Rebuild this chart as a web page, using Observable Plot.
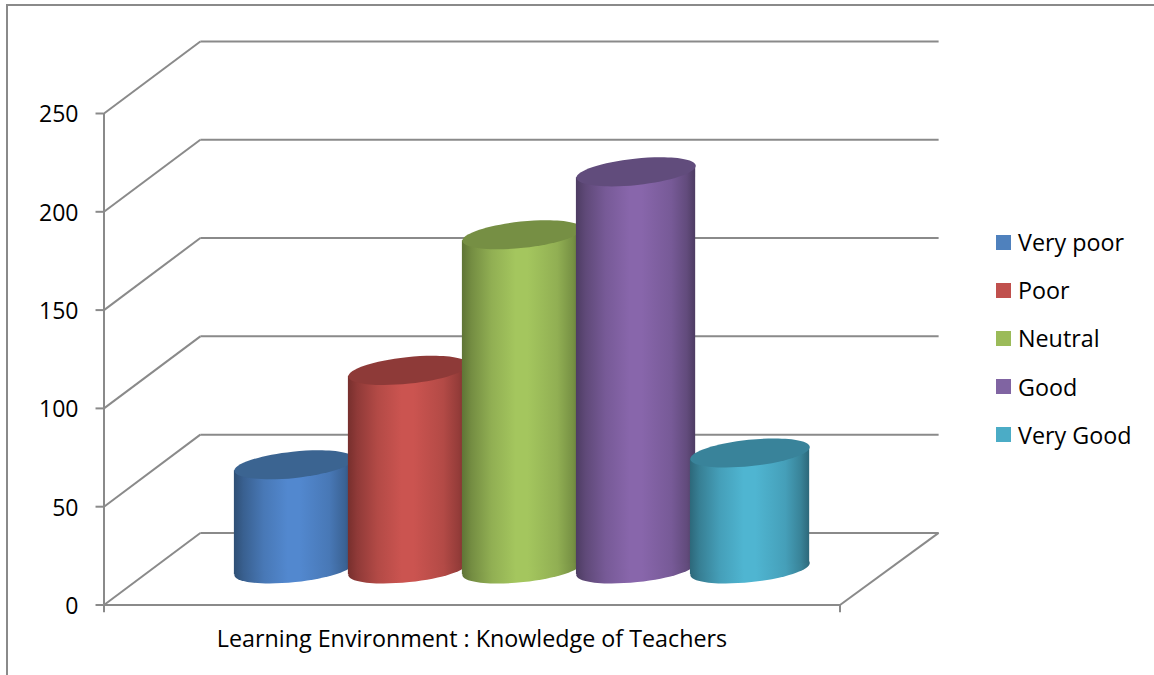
<!DOCTYPE html>
<html>
<head>
<meta charset="utf-8">
<style>
  html, body { margin: 0; padding: 0; background: #fff; }
  #page { position: relative; width: 1154px; height: 675px; overflow: hidden; font-family: "Open Sans", sans-serif; }
  #page svg { position: absolute; left: 0; top: 0; }
  #border { position: absolute; left: 6px; top: 4px; width: 1160px; height: 680px; border-left: 2px solid #8a8a8a; border-top: 2px solid #8a8a8a; }
  #legend { position: absolute; left: 996px; top: 218px; color: #000; font-size: 23.3px; }
  #legend .row { display: flex; align-items: center; height: 48.2px; white-space: nowrap; }
  #legend .key { width: 15px; height: 15px; margin-right: 7px; }
</style>
<script src="https://cdn.jsdelivr.net/npm/d3@7"></script>
<script src="https://cdn.jsdelivr.net/npm/@observablehq/plot@0.6"></script>
</head>
<body>
<div id="page"><div id="border"></div></div>
<script>
const categories = ["Very poor", "Poor", "Neutral", "Good", "Very Good"];
const values = [53, 101, 170, 202, 59];
const yTicks = [0, 50, 100, 150, 200, 250];
const axisTitle = "Learning Environment : Knowledge of Teachers";

const legendColors = ["#4f81bd", "#c0504d", "#9bbb59", "#8064a2", "#4bacc6"];
const centerColors = ["#5288cf", "#cb5450", "#a4c65e", "#8866ab", "#4fb5d1"];
const edgeColors   = ["#2e4f75", "#772f2d", "#5f7436", "#4d3c62", "#2d687a"];
const topColors    = ["#3b6491", "#8e3a38", "#768f44", "#614c7c", "#39839a"];
const gridColor = "#8a8a8a";

// Oblique projection, in scale units (x: one unit = one cylinder step; y: chart value)
const xLeft = -1.6667, xRight = 4.789;
const depthX = 0.845, depthXRight = 0.865, depthY = 36.66;
const baseY = depthY / 2;
const halfWidth = 0.523, tiltY = 3.0, tickLength = 0.07;

// Tilted ellipse drawn as a custom Plot symbol
const ellipseSymbol = {
  draw(ctx) {
    const a = 60, b = 13.2, t = -6 * Math.PI / 180, k = 0.5523;
    const c = Math.cos(t), s = Math.sin(t);
    const P = (x, y) => [x * c - y * s, x * s + y * c];
    const curve = (p1, p2, p3) => ctx.bezierCurveTo(...P(...p1), ...P(...p2), ...P(...p3));
    ctx.moveTo(...P(a, 0));
    curve([a, k * b], [k * a, b], [0, b]);
    curve([-k * a, b], [-a, k * b], [-a, 0]);
    curve([-a, -k * b], [-k * a, -b], [0, -b]);
    curve([k * a, -b], [a, -k * b], [a, 0]);
    ctx.closePath();
  }
};

const gradients = () => {
  const defs = d3.create("svg:defs");
  categories.forEach((_, i) => {
    const g = defs.append("linearGradient").attr("id", `cyl${i}`)
      .attr("x1", 0).attr("x2", 1).attr("y1", 0).attr("y2", 0);
    const mix = d3.interpolateRgb(edgeColors[i], centerColors[i]);
    [[0, 0], [0.08, 0.3], [0.25, 0.72], [0.45, 1], [0.55, 1], [0.8, 0.72], [0.93, 0.35], [1, 0]]
      .forEach(([o, m]) => g.append("stop").attr("offset", o).attr("stop-color", mix(m)));
  });
  return defs.node();
};

const cylinder = (i) => {
  const top = baseY + values[i];
  const side = [
    {x: i - halfWidth, y1: baseY - tiltY, y2: top - tiltY},
    {x: i + halfWidth, y1: baseY + tiltY, y2: top + tiltY}
  ];
  return [
    Plot.dot([i], {x: d => d, y: () => baseY, symbol: ellipseSymbol, r: 60, fill: `url(#cyl${i})`}),
    Plot.area(side, {x1: "x", y1: "y1", y2: "y2", fill: `url(#cyl${i})`}),
    Plot.dot([i], {x: d => d, y: () => top, symbol: ellipseSymbol, r: 60, fill: topColors[i]})
  ];
};

const line = {stroke: gridColor, strokeWidth: 2};

const chart = Plot.plot({
  width: 1154,
  height: 675,
  marginLeft: 103.5,
  marginRight: 314.5,
  marginTop: 113,
  marginBottom: 70.5,
  x: {domain: [xLeft, xRight], axis: null},
  y: {domain: [0, 250], axis: null},
  style: {background: "transparent", overflow: "visible"},
  marks: [
    gradients,
    // side wall diagonals and back wall gridlines
    Plot.link(yTicks, {x1: xLeft, x2: xLeft + depthX, y1: d => d, y2: d => d + depthY, ...line}),
    Plot.link(yTicks, {x1: xLeft + depthX, x2: xRight + depthXRight, y1: d => d + depthY, y2: d => d + depthY, ...line}),
    // floor edges
    Plot.link([0], {x1: xLeft, x2: xRight, y1: 0, y2: 0, ...line}),
    Plot.link([0], {x1: xRight, x2: xRight + depthXRight, y1: 0, y2: depthY, ...line}),
    // front axis
    Plot.ruleX([xLeft, xRight], {y1: -4, y2: 0, ...line}),
    Plot.ruleX([xLeft], {y1: 0, y2: 250, ...line}),
    Plot.ruleY(yTicks, {y: d => d, x1: xLeft - tickLength, x2: xLeft, ...line}),
    Plot.text(yTicks, {
      x: xLeft, y: d => d, text: d => String(d), textAnchor: "end", dx: -25.5, dy: 1.5,
      fontSize: 23, fill: "#000", fontFamily: "Open Sans"
    }),
    ...categories.flatMap((_, i) => cylinder(i)),
    Plot.text([axisTitle], {
      frameAnchor: "bottom", dy: 42, fontSize: 23.3, fill: "#000", fontFamily: "Open Sans"
    })
  ]
});
const page = document.getElementById("page");
page.appendChild(chart);

const legend = document.createElement("div");
legend.id = "legend";
categories.forEach((c, i) => {
  const row = document.createElement("div");
  row.className = "row";
  const key = document.createElement("span");
  key.className = "key";
  key.style.background = legendColors[i];
  const label = document.createElement("span");
  label.textContent = c;
  row.append(key, label);
  legend.appendChild(row);
});
page.appendChild(legend);
</script>
</body>
</html>
